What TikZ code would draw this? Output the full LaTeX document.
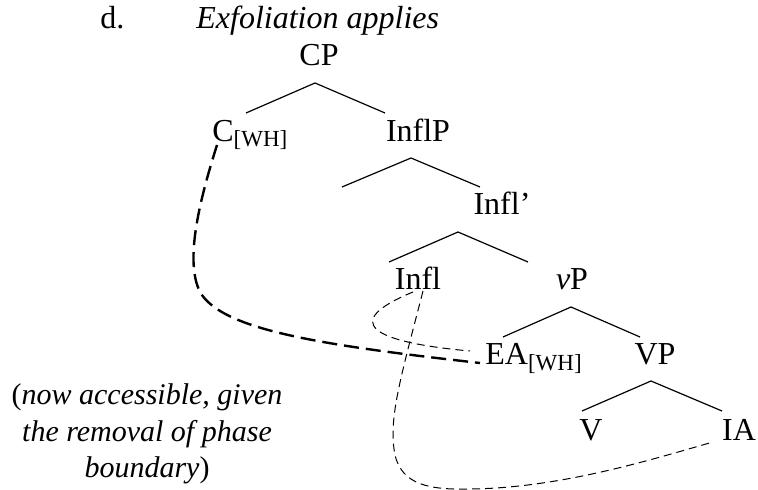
\documentclass[tikz,border=0pt]{standalone}
\usepackage{fontspec}
\setmainfont{Liberation Serif}
\usetikzlibrary{positioning,calc}

\newcommand{\whsub}{\raisebox{-2.5pt}{\fontsize{11.5}{13}\selectfont[WH]}}

\begin{document}
\begin{tikzpicture}[
    x=0.5pt, y=-0.5pt,
    lbl/.style={inner sep=0pt, anchor=base, font=\fontsize{16}{18}\selectfont},
    branch/.style={line width=0.6pt},
    thickdash/.style={line width=1.2pt, dash pattern=on 7.5pt off 3.5pt},
    thindash/.style={line width=0.5pt, dash pattern=on 4pt off 2.5pt}
]
    \useasboundingbox (0,0) rectangle (758,490);

    % heading
    \node[lbl, anchor=base west] (dlabel) at (100,29) {d.};
    \node[lbl, anchor=base west] (title) at (196,29) {\itshape Exfoliation applies};

    % tree nodes
    \node[lbl] (CP) at (319,66) {CP};
    \node[lbl, anchor=base west] (Cwh) at (212,142) {C\whsub};
    \node[lbl] (InflP) at (418,142) {InflP};
    \node[lbl] (Inflbar) at (502,215) {Infl’};
    \node[lbl] (Infl) at (418,290) {Infl};
    \node[lbl] (vP) at (572,290) {\textit{v}P};
    \node[lbl, anchor=base west] (EAwh) at (485,365) {EA\whsub};
    \node[lbl] (VP) at (655,365) {VP};
    \node[lbl] (V) at (591,440) {V};
    \node[lbl] (IA) at (739,440) {IA};

    % note (base = last line)
    \node[lbl, align=center, font=\fontsize{15}{18}\selectfont] (note) at (147,477)
        {(\textit{now accessible, given}\\
         \textit{the removal of phase}\\
         \textit{boundary})};

    % branches
    \foreach \n/\ax/\ay/\lx/\rx/\by in {cp/315/83/246/385/113,
                                       inflp/411/158/342/480/187,
                                       inflbar/458/232/389/528/262,
                                       vp/571/307/503/640/337,
                                       bigvp/651/381/582/722/411} {
        \coordinate (\n-top) at (\ax,\ay);
        \coordinate (\n-l) at (\lx,\by);
        \coordinate (\n-r) at (\rx,\by);
        \draw[branch] (\n-l) -- (\n-top) -- (\n-r);
    }

    % dependency curves
    \coordinate (cwh-out) at (217,145);
    \coordinate (ea-in) at (480,363);
    \coordinate (infl-a) at (413,292);
    \coordinate (infl-b) at (423,291);
    \coordinate (ea-in2) at (470,351);
    \coordinate (ia-in) at (713,442);

    \draw[thickdash] (cwh-out) .. controls (198,205) and (185,262) .. (200,292)
        .. controls (222,330) and (320,345) .. (ea-in);
    \draw[thindash] (infl-a) .. controls (340,322) and (370,342) .. (ea-in2);
    \draw[thindash] (infl-b) .. controls (400,380) and (388,420) .. (395,455)
        .. controls (402,485) and (430,490) .. (470,489)
        .. controls (560,488) and (650,460) .. (ia-in);
\end{tikzpicture}
\end{document}
